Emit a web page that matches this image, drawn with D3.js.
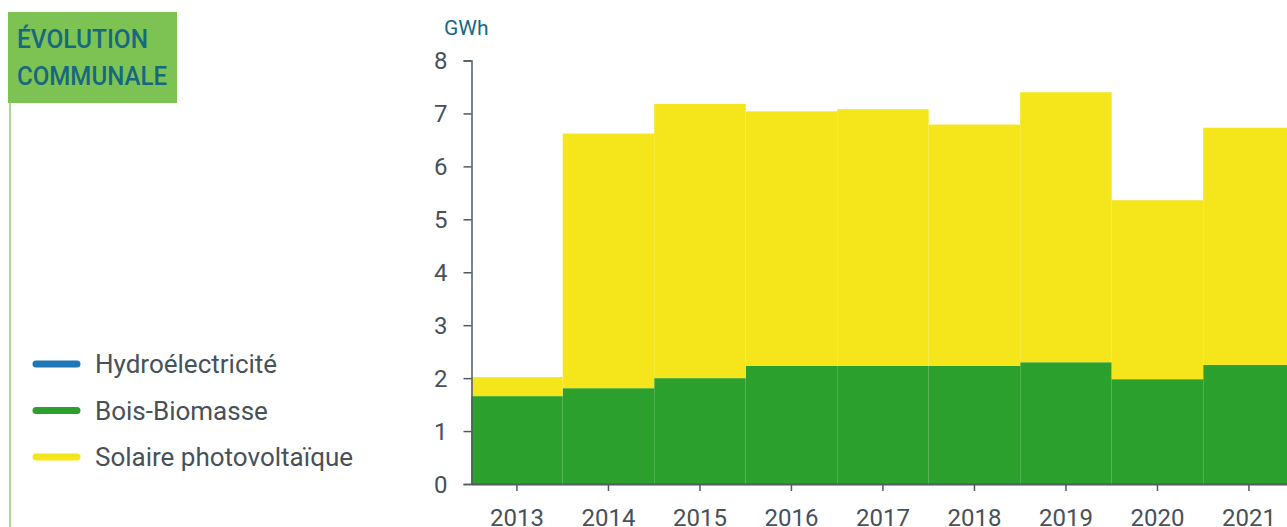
<!DOCTYPE html>
<html><head><meta charset="utf-8">
<script src="https://cdn.jsdelivr.net/npm/d3@7"></script>
<style>body{margin:0;background:#fff;}svg{display:block;}</style>
</head><body>
<svg id="c" width="1287" height="527"></svg>
<script>
const years = ["2013","2014","2015","2016","2017","2018","2019","2020","2021"];
const hydro = [0,0,0,0,0,0,0,0,0];
const biomasse = [1.66,1.81,2.00,2.23,2.23,2.23,2.30,1.98,2.25];
const solaire = [0.36,4.81,5.18,4.81,4.85,4.56,5.10,3.38,4.48];
const yTicks = [0,1,2,3,4,5,6,7,8];
const seriesNames = ["Hydroélectricité","Bois-Biomasse","Solaire photovoltaïque"];
const seriesColors = ["#1f77b4","#2ca02c","#f5e61c"];
const titleLines = ["ÉVOLUTION","COMMUNALE"];
const unitLabel = "GWh";

const svg = d3.select("#c");
const textColor = "#47515a";
const teal = "#17687f";

// title box
svg.append("rect").attr("x",8).attr("y",12).attr("width",169).attr("height",91).attr("fill","#7dc354");
svg.append("line").attr("x1",10).attr("x2",10).attr("y1",103).attr("y2",527)
  .attr("stroke","#a9d98e").attr("stroke-width",2);
const tl = [{t:titleLines[0],y:48,w:131},{t:titleLines[1],y:85,w:150}];
svg.selectAll(".tt").data(tl).enter().append("text")
  .attr("x",17).attr("y",d=>d.y).text(d=>d.t)
  .attr("font-family","Roboto,sans-serif").attr("font-weight",500)
  .attr("font-size",26).attr("fill",teal)
  .attr("textLength",d=>d.w).attr("lengthAdjust","spacingAndGlyphs");

// legend
const lg = svg.append("g");
seriesNames.forEach((n,i)=>{
  const y = 364 + i*46.5;
  lg.append("line").attr("x1",36).attr("x2",77).attr("y1",y).attr("y2",y)
    .attr("stroke",seriesColors[i]).attr("stroke-width",7).attr("stroke-linecap","round");
  lg.append("text").attr("x",95).attr("y",y+9).text(n)
    .attr("font-family","Roboto,sans-serif").attr("font-size",26).attr("fill",textColor);
});

// chart
const x0 = 471.2, bw = 91.5;
const x = d3.scaleBand().domain(years).range([x0, x0 + bw*years.length]).padding(0);
const y = d3.scaleLinear().domain([0,8]).range([484,60.5]);

const data = years.map((yr,i)=>({year:yr, hydro:hydro[i], bio:biomasse[i], sol:solaire[i]}));
const stack = d3.stack().keys(["hydro","bio","sol"])(data);
svg.append("g").selectAll("g").data(stack).enter().append("g")
  .attr("fill",(d,i)=>seriesColors[i])
  .selectAll("rect").data(d=>d).enter().append("rect")
  .attr("x",d=>x(d.data.year)).attr("width",x.bandwidth())
  .attr("y",d=>y(d[1])).attr("height",d=>y(d[0])-y(d[1]));

// y axis
const ya = svg.append("g").attr("transform","translate(471.5,0)")
  .call(d3.axisLeft(y).tickValues(yTicks).tickSize(8).tickPadding(16).tickFormat(d3.format("d")));
ya.select(".domain").attr("stroke","#505a62").attr("stroke-width",1.5);
ya.selectAll(".tick line").attr("stroke","#505a62").attr("stroke-width",1.5);
ya.selectAll("text").attr("font-family","Roboto,sans-serif").attr("font-size",24).attr("fill",textColor).attr("dy","0.35em");

// x axis
const xa = svg.append("g").attr("transform","translate(0,484)")
  .call(d3.axisBottom(x).tickSize(7).tickPadding(18).tickSizeOuter(0));
xa.select(".domain").attr("stroke","#505a62").attr("stroke-width",2);
xa.selectAll(".tick line").attr("stroke","#505a62").attr("stroke-width",1.5);
xa.selectAll("text").attr("font-family","Roboto,sans-serif").attr("font-size",24).attr("fill",textColor).attr("dy","0.71em");

svg.append("text").attr("x",444).attr("y",35).text(unitLabel)
  .attr("font-family","Roboto,sans-serif").attr("font-size",21).attr("fill",teal);
</script>
</body></html>
